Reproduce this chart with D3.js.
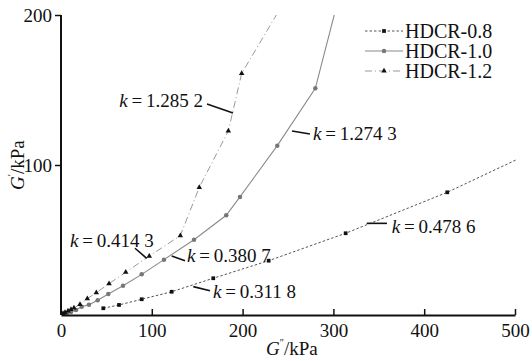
<!DOCTYPE html>
<html>
<head>
<meta charset="utf-8">
<script src="https://cdn.jsdelivr.net/npm/d3@7"></script>
<style>
  body { margin: 0; background: #fff; }
  svg { display: block; }
  text { font-family: "Liberation Serif", "Times New Roman", serif; fill: #111; }
</style>
</head>
<body>
<div class="chart"></div>
<script>
// G'' (x) and G' (y) values, kPa
const seriesNames = ["HDCR-0.8", "HDCR-1.0", "HDCR-1.2"];

const hdcr08_x = [46.6, 63.9, 88.9, 121.9, 167.7, 228.7, 313.5, 425.4, 505];
const hdcr08_y = [4.5, 6.7, 10.5, 15.5, 24.5, 36.2, 54.5, 81.8, 104.5];

const hdcr10_x = [3.3, 6.6, 11, 16.5, 22.8, 30.8, 40.4, 52.1, 68.3, 88.9, 113.4, 146.5, 182, 197.1, 238.2, 280.1, 306];
const hdcr10_y = [0.7, 1.1, 2, 3.3, 5.5, 6.9, 9.8, 14, 19.5, 27.1, 36.9, 50.2, 66.5, 78.7, 112.9, 151.1, 212];

const hdcr12_x = [2.2, 4.4, 7.7, 11, 14.3, 20.9, 29, 38.9, 52.9, 71.3, 97.2, 131.4, 152.3, 184.3, 199, 247];
const hdcr12_y = [1, 1.7, 2.7, 3.8, 4.7, 7.1, 10.9, 14.9, 20.9, 28.5, 39.3, 52.9, 85.1, 122.7, 161.1, 210];

const xTicks = [0, 100, 200, 300, 400, 500];
const yTicks = [100, 200];

// slope annotations: label, text anchor point, leader line (data units)
const kLabels = ["1.285 2", "1.274 3", "0.414 3", "0.380 7", "0.311 8", "0.478 6"];
const kText = [[156.4, 143.3, "end"], [277.5, 121.3, "start"], [9.9, 50, "start"], [138.8, 40, "start"], [167.4, 15.5, "start"], [364.2, 58.9, "start"]];
const kLeader = [[160.8, 140.7, 189.4, 134.7], [254.4, 122.7, 274.2, 120.7], [81.5, 44.5, 94.4, 37.8], [121.9, 39.3, 136.6, 36.2], [145.7, 18.9, 164.1, 16.2], [336.7, 61.1, 359, 61.1]];

const svg_width = 532, svg_height = 361;
const margin = {top: 15, right: 17, bottom: 46, left: 61};
const chart_width = svg_width - margin.left - margin.right;
const chart_height = svg_height - margin.top - margin.bottom;

const svg = d3.select(".chart").append("svg")
  .attr("width", svg_width).attr("height", svg_height);
const g = svg.append("g").attr("transform", `translate(${margin.left},${margin.top})`);

const xScale = d3.scaleLinear([0, 500], [0, chart_width]);
const yScale = d3.scaleLinear([0, 200], [chart_height, 0]);

g.append("clipPath").attr("id", "plot-clip")
  .append("rect").attr("x", 0).attr("y", 0).attr("width", chart_width + 1).attr("height", chart_height);

const series = [
  {name: seriesNames[0], x: hdcr08_x, y: hdcr08_y, stroke: "#555", dash: "2.5,2", width: 1, symbol: d3.symbolSquare, size: 14, fill: "#111"},
  {name: seriesNames[1], x: hdcr10_x, y: hdcr10_y, stroke: "#8a8a8a", dash: null, width: 1.1, symbol: d3.symbolCircle, size: 16, fill: "#777"},
  {name: seriesNames[2], x: hdcr12_x, y: hdcr12_y, stroke: "#999", dash: "7,3,1,3", width: 1, symbol: d3.symbolTriangle, size: 13, fill: "#111"}
];

const line = d3.line().x(d => xScale(d[0])).y(d => yScale(d[1]));
const plot = g.append("g").attr("clip-path", "url(#plot-clip)");

series.forEach(s => {
  const pts = s.x.map((v, i) => [v, s.y[i]]);
  plot.append("path").datum(pts)
    .attr("d", line)
    .attr("fill", "none")
    .attr("stroke", s.stroke)
    .attr("stroke-width", s.width)
    .attr("stroke-dasharray", s.dash);
  plot.selectAll(null).data(pts).enter().append("path")
    .attr("transform", d => `translate(${xScale(d[0])},${yScale(d[1])})`)
    .attr("d", d3.symbol().type(s.symbol).size(s.size))
    .attr("fill", s.fill);
});

// axes
const xAxis = d3.axisBottom(xScale).tickValues(xTicks).tickSizeInner(-6).tickSizeOuter(0).tickPadding(9);
const xAxisDraw = g.append("g").attr("class", "x axis")
  .attr("transform", `translate(0,${chart_height})`).call(xAxis);
const yAxis = d3.axisLeft(yScale).tickValues(yTicks).tickSizeInner(6).tickSizeOuter(0).tickPadding(3);
const yAxisDraw = g.append("g").attr("class", "y axis").call(yAxis);

[xAxisDraw, yAxisDraw].forEach(a => {
  a.attr("font-family", null);
  a.select(".domain").attr("stroke", "#111").attr("stroke-width", 2);
  a.selectAll(".tick line").attr("stroke", "#111").attr("stroke-width", 1.5);
  a.selectAll("text").attr("font-size", 19).attr("fill", "#111");
});
xAxisDraw.selectAll(".tick").filter(d => d === 0).select("line").remove();
g.select(".y.axis .domain").attr("d", `M0,0V${chart_height}`);

// axis titles
const xTitle = svg.append("text").attr("x", 266).attr("y", 355).attr("font-size", 19);
xTitle.append("tspan").attr("font-style", "italic").text("G");
xTitle.append("tspan").attr("font-size", 10).attr("dy", -9).text("″");
xTitle.append("tspan").attr("dy", 9).text("/kPa");

const yTitle = svg.append("text").attr("transform", "translate(24,190) rotate(-90)").attr("font-size", 19);
yTitle.append("tspan").attr("font-style", "italic").text("G");
yTitle.append("tspan").attr("font-size", 10).attr("dy", -9).text("′");
yTitle.append("tspan").attr("dy", 9).text("/kPa");

// slope annotations
kLabels.forEach((lab, i) => {
  const [lx1, ly1, lx2, ly2] = kLeader[i];
  g.append("line")
    .attr("x1", xScale(lx1)).attr("y1", yScale(ly1))
    .attr("x2", xScale(lx2)).attr("y2", yScale(ly2))
    .attr("stroke", "#111").attr("stroke-width", 1.6);
  const [tx, ty, anchor] = kText[i];
  const t = g.append("text")
    .attr("x", xScale(tx)).attr("y", yScale(ty)).attr("dy", "0.35em")
    .attr("text-anchor", anchor).attr("font-size", 19);
  t.append("tspan").attr("font-style", "italic").text("k");
  t.append("tspan").text("\u2009=\u2009" + lab);
});

// legend
const legend = svg.append("g").attr("class", "legend");
series.forEach((s, i) => {
  const ly = 31 + i * 20;
  legend.append("line").attr("x1", 365).attr("x2", 403).attr("y1", ly).attr("y2", ly)
    .attr("stroke", s.stroke).attr("stroke-width", s.width).attr("stroke-dasharray", s.dash);
  legend.append("path").attr("transform", `translate(384,${ly})`)
    .attr("d", d3.symbol().type(s.symbol).size(s.size)).attr("fill", s.fill);
  legend.append("text").attr("x", 405).attr("y", ly).attr("dy", "0.35em")
    .attr("font-size", 20).text(s.name);
});
</script>
</body>
</html>
